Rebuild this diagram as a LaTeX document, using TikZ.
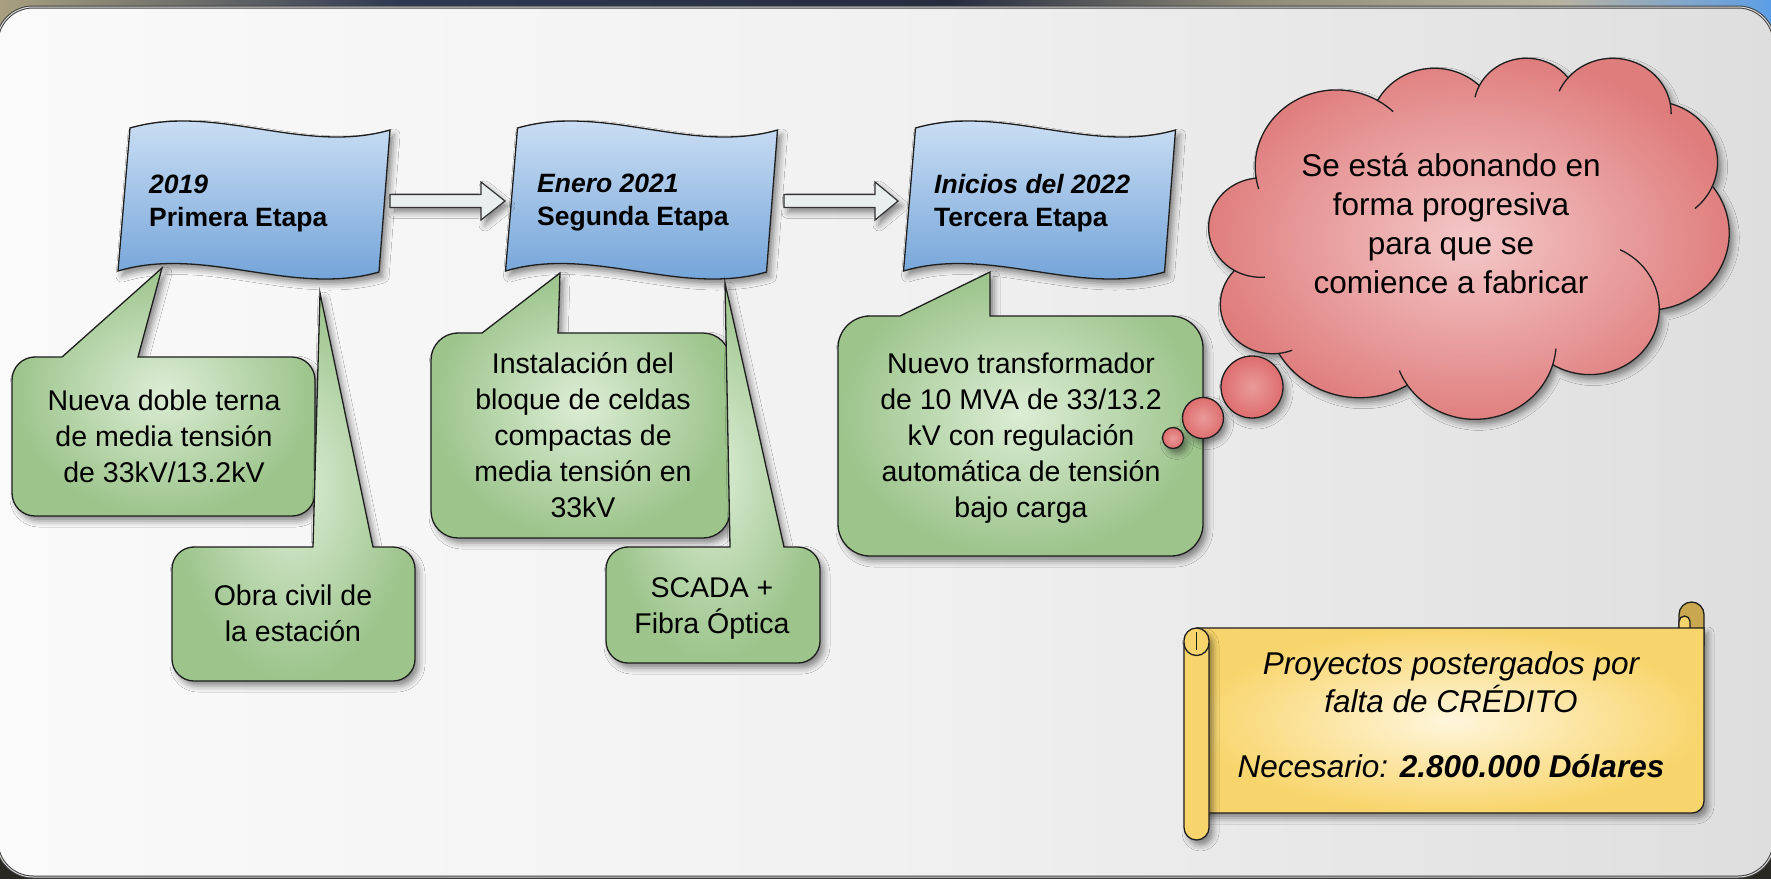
\documentclass[tikz,border=0pt]{standalone}
\usepackage{fontspec}
\setmainfont{Liberation Sans}
\usetikzlibrary{calc,shadows.blur}

\definecolor{flagtop}{HTML}{D3E4F6}
\definecolor{flagbot}{HTML}{6B9ED6}
\definecolor{greenin}{HTML}{DCEDD5}
\definecolor{greenout}{HTML}{9CC48B}
\definecolor{cloudin}{HTML}{F4C8C8}
\definecolor{cloudout}{HTML}{DF7C7C}
\definecolor{bubin}{HTML}{EA9A9A}
\definecolor{bubout}{HTML}{DE6E6E}
\definecolor{scrollin}{HTML}{FFF6DC}
\definecolor{scrollout}{HTML}{F8D56C}
\definecolor{scrolldark}{HTML}{C9A650}
\definecolor{arrowfill}{HTML}{E9EEEE}
\definecolor{edge}{HTML}{1E1E1E}
\definecolor{panelL}{HTML}{FAFAFA}
\definecolor{panelM}{HTML}{F1F1F1}
\definecolor{panelR}{HTML}{DEDEDE}
\definecolor{sA}{HTML}{A8A080}
\definecolor{sB}{HTML}{2E3852}
\definecolor{sC}{HTML}{262C40}
\definecolor{sD}{HTML}{8E8A78}
\definecolor{sE}{HTML}{B8B2A2}
\definecolor{sF}{HTML}{5C9EE6}
\definecolor{bgdark}{HTML}{2A2822}

\tikzset{
  shad/.style={blur shadow={shadow xshift=4pt, shadow yshift=-5pt, shadow blur radius=6pt, shadow opacity=45}},
  flagstyle/.style={draw=edge, line width=1.3pt, top color=flagtop, bottom color=flagbot, shad},
  calloutstyle/.style={draw=edge, line width=1.3pt, inner color=greenin, outer color=greenout, shad},
  blockarrow/.style={draw=black!80, line width=1.2pt, fill=arrowfill, shad},
  cloudstyle/.style={draw=edge, line width=1.3pt, inner color=cloudin, outer color=cloudout, shad},
  cloudline/.style={draw=edge, line width=1.3pt},
  bubble/.style={circle, draw=edge, line width=1.3pt, inner color=bubin, outer color=bubout, inner sep=0pt, shad},
  scrolledge/.style={draw=edge, line width=1.3pt},
  flagtxt/.style={font=\fontsize{26.5}{33}\selectfont\bfseries, align=left, inner sep=0pt, anchor=west},
  ctxt/.style={font=\fontsize{28.5}{36}\selectfont, align=center, inner sep=0pt},
}

\newcommand\calloutbox[8]{%
  \draw[calloutstyle] (#6,-#2) -- (#8) -- (#7,-#2) -- ({#3-#5},-#2)
    arc[start angle=90,end angle=0,radius=#5] -- (#3,{-#4+#5})
    arc[start angle=0,end angle=-90,radius=#5] -- ({#1+#5},-#4)
    arc[start angle=-90,end angle=-180,radius=#5] -- (#1,{-#2-#5})
    arc[start angle=180,end angle=90,radius=#5] -- cycle;}

\newcommand\flagshape{%
  \draw[flagstyle] (130,-128) .. controls (217,-103) and (303,-155) .. (390,-130)
    -- (379,-272) .. controls (292,-297) and (205,-245) .. (118,-271) -- cycle;}

\begin{document}
\begin{tikzpicture}[x=1pt,y=1pt]
\useasboundingbox (0,0) rectangle (1771,-879);

% outer frame background
\fill[left color=sA, right color=sB] (0,0) rectangle (400,-60);
\fill[left color=sB, right color=sC] (400,0) rectangle (950,-60);
\fill[left color=sC, right color=sD] (950,0) rectangle (1250,-60);
\fill[left color=sD, right color=sE] (1250,0) rectangle (1560,-60);
\fill[left color=sE, right color=sF] (1560,0) rectangle (1771,-60);
\fill[bgdark] (0,-60) rectangle (1771,-879);

% panel
\draw[rounded corners=36pt, left color=panelL, right color=panelR, middle color=panelM,
      draw=black!75, line width=1pt, double=white!85!black, double distance=1pt]
  (-3,-7) rectangle (1774,-877);

% flags
\flagshape
\begin{scope}[shift={(387.5,0)}]\flagshape\end{scope}
\begin{scope}[shift={(785.5,0)}]\flagshape\end{scope}

\node[flagtxt] (f1) at (149,-203) {\textit{2019}\\Primera Etapa};
\node[flagtxt] (f2) at (537,-203) {\textit{Enero 2021}\\Segunda Etapa};
\node[flagtxt] (f3) at (934,-203) {\textit{Inicios del 2022}\\Tercera Etapa};

% block arrows between flags
\coordinate (a1s) at (390,-201);
\coordinate (a1e) at (505,-201);
\coordinate (a2s) at (784,-201);
\coordinate (a2e) at (898,-201);
\draw[blockarrow] ($(a1s)+(0,6.5)$) -- ($(a1e)+(-24,6.5)$) -- ($(a1e)+(-24,19)$) -- (a1e)
  -- ($(a1e)+(-24,-19)$) -- ($(a1e)+(-24,-6.5)$) -- ($(a1s)+(0,-6.5)$) -- cycle;
\draw[blockarrow] ($(a2s)+(0,6.5)$) -- ($(a2e)+(-23,6.5)$) -- ($(a2e)+(-23,19)$) -- (a2e)
  -- ($(a2e)+(-23,-19)$) -- ($(a2e)+(-23,-6.5)$) -- ($(a2s)+(0,-6.5)$) -- cycle;

% callout tips
\coordinate (t1) at (162,-268);
\coordinate (t2) at (320,-293);
\coordinate (t3) at (560,-273);
\coordinate (t4) at (725,-283);
\coordinate (t5) at (990,-272);

\calloutbox{12}{357}{315}{516}{23}{62}{138}{t1}
\calloutbox{172}{547}{415}{681}{22}{313}{373}{t2}
\calloutbox{431}{333}{730}{538}{27}{482}{558}{t3}
\calloutbox{606}{547}{820}{663}{22}{730}{784}{t4}
\calloutbox{838}{316}{1203}{556}{32}{900}{990}{t5}

\node[ctxt] (c1) at (164,-436) {Nueva doble terna\\de media tensión\\de 33kV/13.2kV};
\node[ctxt] (c2) at (293,-613) {Obra civil de\\la estación};
\node[ctxt] (c3) at (583,-435) {Instalación del\\bloque de celdas\\compactas de\\media tensión en\\33kV};
\node[ctxt] (c4) at (712,-608) {SCADA +\\Fibra Óptica};
\node[ctxt] (c5) at (1021,-438) {Nuevo transformador\\de 10 MVA de 33/13.2\\kV con regulación\\automática de tensión\\bajo carga};

% thought cloud
\begin{scope}[shift={(1209,-57)}, xscale=1.2037, yscale=-0.83565]
  \draw[cloudstyle] (39.00,143.70)
    arc[start angle=-187.75, end angle=-59.63, x radius=67.53, y radius=91.90]
    arc[start angle=-152.02, end angle=-45.45, x radius=53.33, y radius=72.67]
    arc[start angle=-153.48, end angle=-37.33, x radius=43.65, y radius=59.45]
    arc[start angle=-139.72, end angle=-10.22, x radius=48.57, y radius=65.95]
    arc[start angle=-74.77, end angle=23.21, x radius=53.33, y radius=72.73]
    arc[start angle=-37.53, end angle=81.86, x radius=67.75, y radius=92.20]
    arc[start angle=0.46, end angle=121.99, x radius=57.85, y radius=78.67]
    arc[start angle=16.84, end angle=146.23, x radius=67.52, y radius=92.15]
    arc[start angle=58.98, end angle=150.19, x radius=77.20, y radius=105.43]
    arc[start angle=83.31, end angle=223.11, x radius=43.60, y radius=59.18]
    arc[start angle=120.35, end angle=264.11, x radius=43.45, y radius=59.45]
    -- cycle;
  \draw[cloudline] (43.05,204.15) ++(85.54:43.45 and 59.45) arc[start angle=85.54, end angle=120.35, x radius=43.45, y radius=59.45];
  \draw[cloudline] (52.92,295.91) ++(68.23:43.60 and 59.18) arc[start angle=68.23, end angle=83.31, x radius=43.60, y radius=59.18];
  \draw[cloudline] (220.92,341.40) ++(146.23:67.52 and 92.15) arc[start angle=146.23, end angle=158.47, x radius=67.52, y radius=92.15];
  \draw[cloudline] (220.92,341.40) ++(4.73:67.52 and 92.15) arc[start angle=4.73, end angle=16.84, x radius=67.52, y radius=92.15];
  \draw[cloudline] (316.19,301.38) ++(-64.03:57.85 and 78.67) arc[start angle=-64.03, end angle=0.46, x radius=57.85, y radius=78.67];
  \draw[cloudline] (369.16,125.91) ++(23.21:53.33 and 72.73) arc[start angle=23.21, end angle=49.64, x radius=53.33, y radius=72.73];
  \draw[cloudline] (335.37,67.43) ++(-10.22:48.57 and 65.95) arc[start angle=-10.22, end angle=0.82, x radius=48.57, y radius=65.95];
  \draw[cloudline] (335.37,67.43) ++(-156.30:48.57 and 65.95) arc[start angle=-156.30, end angle=-139.72, x radius=48.57, y radius=65.95];
  \draw[cloudline] (263.60,60.85) ++(-167.72:43.65 and 59.45) arc[start angle=-167.72, end angle=-153.48, x radius=43.65, y radius=59.45];
  \draw[cloudline] (105.91,131.31) ++(-59.63:67.53 and 91.90) arc[start angle=-59.63, end angle=-45.74, x radius=67.53, y radius=91.90];
  \draw[cloudline] (105.91,131.31) ++(163.19:67.53 and 91.90) arc[start angle=163.19, end angle=172.25, x radius=67.53, y radius=91.90];
\end{scope}
\node[font=\fontsize{31.5}{39}\selectfont, align=center, inner sep=0pt] (cloudtxt) at (1451,-224)
  {Se está abonando en\\forma progresiva\\para que se\\comience a fabricar};

% thought bubbles
\node[bubble, minimum size=62pt] (bb3) at (1252,-387) {};
\node[bubble, minimum size=41pt] (bb2) at (1203,-418) {};
\node[bubble, minimum size=21pt] (bb1) at (1173,-438) {};

% scroll
\draw[scrolledge, fill=scrolldark] (1679,-645) -- (1679,-614.5) arc[start angle=180,end angle=0,radius=12.5] -- (1704,-645) -- cycle;
\draw[scrolledge, fill=scrollout] (1679,-628) -- (1679,-621.5) arc[start angle=180,end angle=0,radius=5.5] -- (1690,-628);
\draw[scrolledge, inner color=scrollin, outer color=scrollout, shad]
  (1197,-628) -- (1704,-628) -- (1704,-801) arc[start angle=0,end angle=-90,radius=12] -- (1197,-813) -- cycle;
\draw[scrolledge, fill=scrollout, shad]
  (1184,-640.5) arc[start angle=180,end angle=0,radius=12.5] -- (1209,-827.5)
  arc[start angle=0,end angle=-180,radius=12.5] -- cycle;
\draw[scrolledge] (1184,-643) arc[start angle=180,end angle=360,radius=12.5];
\draw[scrolledge] (1196.5,-632) -- (1196.5,-650);
\node[font=\fontsize{31.5}{38}\selectfont\itshape, align=center, inner sep=0pt] (scrolltxt) at (1451,-715)
  {Proyectos postergados por\\falta de CRÉDITO\\[27pt]Necesario: \textbf{2.800.000 Dólares}};
\end{tikzpicture}
\end{document}
